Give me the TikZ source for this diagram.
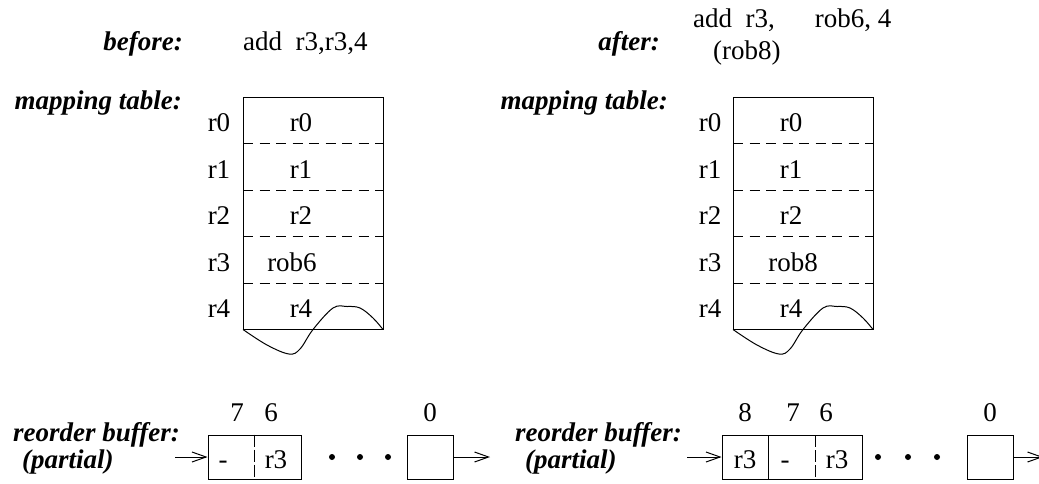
\documentclass[tikz,border=0pt]{standalone}
\usepackage{fontspec}
\setmainfont{Liberation Serif}
\usetikzlibrary{arrows.meta}
\begin{document}
\begin{tikzpicture}[x=1pt,y=-1pt,
  txt/.style={font=\fontsize{27}{30}\selectfont, inner sep=0pt, anchor=base},
  lbl/.style={font=\fontsize{27}{30}\selectfont\bfseries\itshape, inner sep=0pt},
  ln/.style={line width=1pt},
  dsh/.style={line width=1pt, dash pattern=on 10pt off 6.5pt},
  cellbox/.style={draw, line width=1pt, inner sep=0pt, rectangle},
  arr/.style={line width=1pt, -{Straight Barb[length=14pt,width=10pt,line width=1pt]}},
  dot/.style={circle, fill=black, inner sep=0pt, minimum size=6pt}]
\useasboundingbox (0,0) rectangle (1039,483);

% ---------- left: before ----------
\node[lbl, anchor=base east] (before) at (183,50) {before:};
\node[txt, anchor=base west] (instrL) at (243,50) {add\ \ r3,r3,4};
\node[lbl, anchor=base east] (mapL) at (182,109) {mapping table:};

\draw[ln] (243,97) rectangle (383,329.5);
\foreach \y in {143.5,190,236.5,283} \draw[dsh] (243,\y) -- (383,\y);
\node[txt] (lr0) at (219,131.5) {r0};
\node[txt] (lr1) at (219,178) {r1};
\node[txt] (lr2) at (219,224.5) {r2};
\node[txt] (lr3) at (219,271) {r3};
\node[txt] (lr4) at (219,317.5) {r4};
\node[txt] (lc0) at (301,131.5) {r0};
\node[txt] (lc1) at (301,178) {r1};
\node[txt] (lc2) at (301,224.5) {r2};
\node[txt] (lc3) at (292,271) {rob6};
\node[txt] (lc4) at (301,317.5) {r4};
\draw[ln] plot[smooth, tension=0.6] coordinates {(243,329.5) (267,345) (289,354) (300,349) (313,329.5) (333,308) (347,306.5) (360,308) (373,318) (383,329.5)};

% ---------- right: after ----------
\node[lbl, anchor=base east] (after) at (660,50) {after:};
\node[txt, anchor=base west] (instrR) at (693,27) {add\ \ r3,\hspace{40pt}rob6, 4};
\node[txt, anchor=base west] (rob8n) at (713,59) {(rob8)};
\node[lbl, anchor=base east] (mapR) at (668,109) {mapping table:};

\draw[ln] (733,97) rectangle (873,329.5);
\foreach \y in {143.5,190,236.5,283} \draw[dsh] (733,\y) -- (873,\y);
\node[txt] (rr0) at (710,131.5) {r0};
\node[txt] (rr1) at (710,178) {r1};
\node[txt] (rr2) at (710,224.5) {r2};
\node[txt] (rr3) at (710,271) {r3};
\node[txt] (rr4) at (710,317.5) {r4};
\node[txt] (rc0) at (791,131.5) {r0};
\node[txt] (rc1) at (791,178) {r1};
\node[txt] (rc2) at (791,224.5) {r2};
\node[txt] (rc3) at (793,271) {rob8};
\node[txt] (rc4) at (791,317.5) {r4};
\draw[ln] plot[smooth, tension=0.6] coordinates {(733,329.5) (757,345) (779,354) (790,349) (803,329.5) (823,308) (837,306.5) (850,308) (863,318) (873,329.5)};

% ---------- left reorder buffer ----------
\node[lbl, anchor=base east] (robL) at (180,441) {reorder buffer:};
\node[lbl, anchor=base west] (partL) at (22,468) {(partial)};
\node[cellbox, minimum width=93pt, minimum height=44pt] (Lbuf) at (254.5,457) {};
\draw[dsh, dash pattern=on 12pt off 3pt] (Lbuf.north) -- (Lbuf.south);
\node[txt] (Lm) at (223,468) {-};
\node[txt] (Lr3) at (276,468) {r3};
\node[txt] (L7) at (237,421) {7};
\node[txt] (L6) at (271,421) {6};
\node[txt] (L0) at (430,421) {0};
\node[cellbox, minimum width=46pt, minimum height=44pt] (Lz) at (430,457) {};
\node[dot] (Ld1) at (332,457) {};
\node[dot] (Ld2) at (360,457) {};
\node[dot] (Ld3) at (388,457) {};
\coordinate (Lin) at (175,457);
\coordinate (Lout) at (490,457);
\draw[arr] (Lin) -- (Lbuf.west);
\draw[arr] (Lz.east) -- (Lout);

% ---------- right reorder buffer ----------
\node[lbl, anchor=base east] (robR) at (682,441) {reorder buffer:};
\node[lbl, anchor=base west] (partR) at (525,468) {(partial)};
\node[cellbox, minimum width=140pt, minimum height=44pt] (Rbuf) at (792,457) {};
\draw[ln] (768,435) -- (768,479);
\draw[dsh, dash pattern=on 12pt off 3pt] (815,435) -- (815,479);
\node[txt] (Rr3a) at (745,468) {r3};
\node[txt] (Rm) at (785,468) {-};
\node[txt] (Rr3b) at (837,468) {r3};
\node[txt] (R8) at (745,421) {8};
\node[txt] (R7) at (793,421) {7};
\node[txt] (R6) at (826,421) {6};
\node[txt] (R0) at (990,421) {0};
\node[cellbox, minimum width=46pt, minimum height=44pt] (Rz) at (990,457) {};
\node[dot] (Rd1) at (878,457) {};
\node[dot] (Rd2) at (908,457) {};
\node[dot] (Rd3) at (937,457) {};
\coordinate (Rin) at (687,457);
\coordinate (Rout) at (1043,457);
\draw[arr] (Rin) -- (Rbuf.west);
\draw[arr] (Rz.east) -- (Rout);
\end{tikzpicture}
\end{document}
